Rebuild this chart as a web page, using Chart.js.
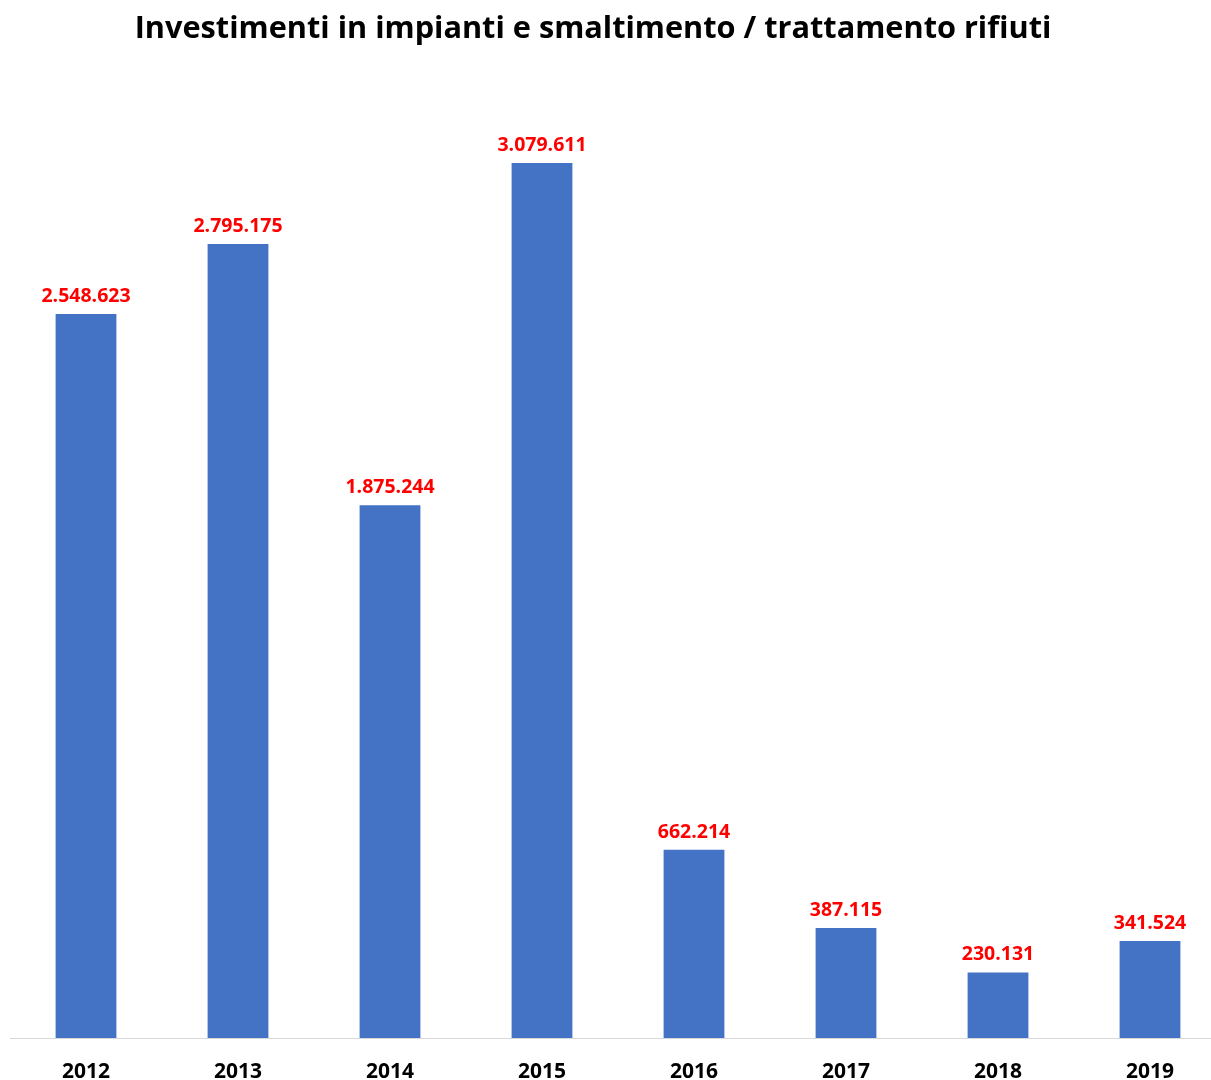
<!DOCTYPE html>
<html>
<head>
<meta charset="utf-8">
<script src="https://cdn.jsdelivr.net/npm/chart.js@4"></script>
<style>
  html, body { margin: 0; padding: 0; background: #fff; overflow: hidden; }
  #wrap { width: 1226px; height: 1080px; }
</style>
</head>
<body>
<div id="wrap"><canvas id="investimenti"></canvas></div>
<script>
// Data
const chartTitle = 'Investimenti in impianti e smaltimento / trattamento rifiuti';
const years = ['2012', '2013', '2014', '2015', '2016', '2017', '2018', '2019'];
const investimenti = [2548623, 2795175, 1875244, 3079611, 662214, 387115, 230131, 341524];

// thousands separator with dots, Italian style
function formatIt(v) {
    return String(v).replace(/\B(?=(\d{3})+(?!\d))/g, '.');
}

// value labels above bars + title drawn at its place
const barLabels = {
    id: 'barLabels',
    afterDatasetsDraw(chart) {
        const ctx = chart.ctx;
        const meta = chart.getDatasetMeta(0);
        ctx.save();
        ctx.font = 'bold 19.5px "Open Sans"';
        ctx.fillStyle = '#FF0000';
        ctx.textAlign = 'center';
        ctx.textBaseline = 'bottom';
        meta.data.forEach((bar, i) => {
            ctx.fillText(formatIt(investimenti[i]), bar.x, bar.y - 8);
        });
        ctx.restore();
    },
    afterDraw(chart) {
        const ctx = chart.ctx;
        ctx.save();
        ctx.font = 'bold 30.7px "Open Sans"';
        ctx.fillStyle = '#000';
        ctx.textAlign = 'center';
        ctx.textBaseline = 'middle';
        ctx.fillText(chartTitle, 593, 29);
        ctx.restore();
    }
};

const ctx = document.getElementById('investimenti').getContext('2d');
const investimentiChart = new Chart(ctx, {
    type: 'bar',
    data: {
        labels: years,
        datasets: [{
            label: 'Investimenti',
            data: investimenti,
            backgroundColor: '#4472C4',
            borderWidth: 0,
            barPercentage: 0.4,
            categoryPercentage: 1.0
        }]
    },
    options: {
        responsive: true,
        maintainAspectRatio: false,
        animation: false,
        layout: {
            padding: { top: 60, left: 10, right: 0, bottom: 0 }
        },
        plugins: {
            legend: { display: false },
            title: { display: false },
            tooltip: { enabled: false }
        },
        scales: {
            y: {
                display: false,
                min: 0,
                max: 3442400
            },
            x: {
                afterFit: (scale) => { scale.height = 42; },
                grid: { display: false, drawTicks: false },
                border: { display: true, color: '#d9d9d9', width: 1 },
                ticks: {
                    color: '#000',
                    padding: 21,
                    font: { family: '"Open Sans"', size: 21, weight: 'bold' }
                }
            }
        }
    },
    plugins: [barLabels]
});
</script>
</body>
</html>
